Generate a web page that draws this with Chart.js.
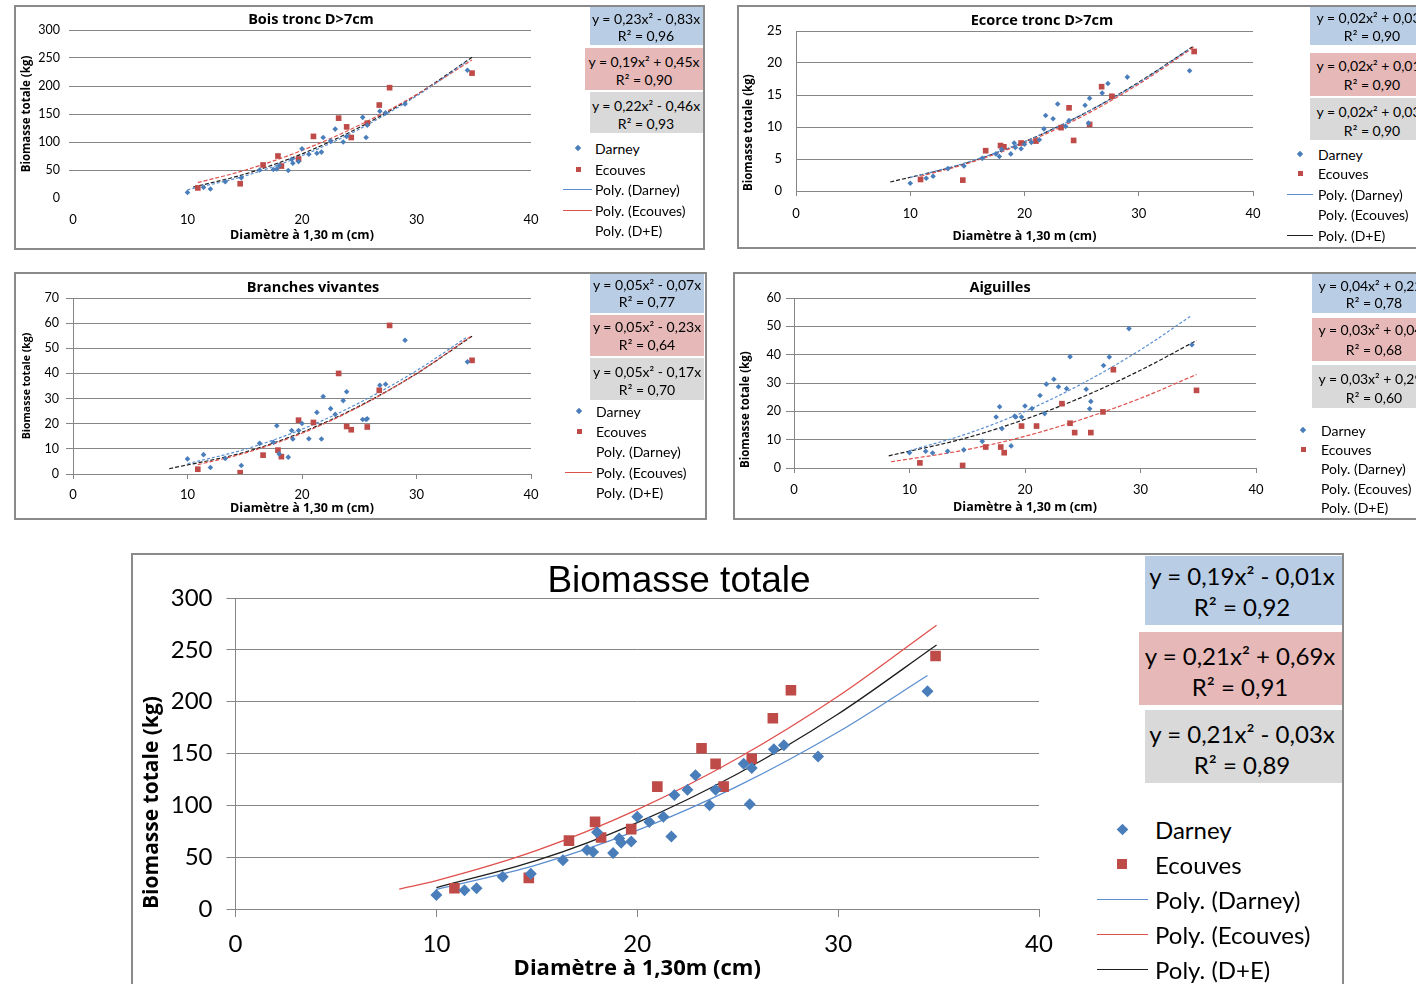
<!DOCTYPE html>
<html>
<head>
<meta charset="utf-8">
<title>Biomasse totale</title>
<script src="https://cdn.jsdelivr.net/npm/chart.js@4.4.0/dist/chart.umd.min.js"></script>
<style>
html, body { margin: 0; padding: 0; background: #fff; }
body { width: 1416px; height: 984px; overflow: hidden; position: relative; font-family: Lato, "Open Sans", sans-serif; color: #000; }
.panel { position: absolute; border: 2px solid #8a8a8a; box-sizing: border-box; }
canvas { position: absolute; }
.t { position: absolute; white-space: nowrap; transform: translate(-50%, -50%); }
.l { position: absolute; white-space: nowrap; transform: translateY(-50%); }
.bx { position: absolute; }
</style>
</head>
<body>
<div class="panel" style="left:14px;top:5px;width:691px;height:245px"></div>
<div class="panel" style="left:737px;top:5px;width:720px;height:244px"></div>
<div class="panel" style="left:14px;top:272px;width:693px;height:248px"></div>
<div class="panel" style="left:733px;top:272px;width:720px;height:248px"></div>
<div class="panel" style="left:131px;top:553px;width:1213px;height:460px"></div>

<canvas id="bois"></canvas>
<canvas id="ecorce"></canvas>
<canvas id="branches"></canvas>
<canvas id="aiguilles"></canvas>
<canvas id="total"></canvas>
<div id="overlay"></div>

<script>
// diameters at 1.30 m (cm)
var darneyD = [10.0, 11.4, 12.0, 13.3, 14.7, 16.3, 17.5, 17.8, 18.0, 18.8, 19.1, 19.2, 19.7, 20.0, 20.6, 21.3, 21.7, 21.85, 22.5, 22.9, 23.6, 23.9, 25.3, 25.6, 25.7, 26.8, 27.3, 29.0, 34.45];
var ecouvesD = [10.9, 14.6, 16.6, 17.9, 18.2, 19.7, 21.0, 23.2, 23.9, 24.3, 25.7, 26.75, 27.65, 34.85];

// biomass (kg) per compartment
var boisDarney = [10, 19, 16, 29, 36, 50, 51, 52, 58, 49, 69, 62, 65, 88, 78, 80, 82, 108, 102, 123, 100, 110, 144, 108, 130, 155, 152, 168, 228];
var boisEcouves = [18, 25.5, 59, 75, 57, 69.5, 110, 142.6, 127, 108, 133.6, 166, 197, 223];
var ecorceDarney = [1.2, 2.0, 2.3, 3.5, 3.9, 5.1, 5.8, 5.4, 6.5, 5.8, 7.5, 6.8, 6.6, 7.3, 7.6, 8.0, 9.7, 11.8, 11.3, 13.6, 10.1, 11.0, 13.4, 10.6, 14.5, 15.3, 16.8, 17.8, 18.8];
var ecorceEcouves = [1.8, 1.7, 6.3, 7.1, 6.9, 7.5, 7.8, 9.9, 13.0, 7.9, 10.4, 16.3, 14.8, 21.8];
var branchesDarney = [6.0, 7.7, 2.6, 6.2, 3.4, 12.2, 12.6, 19.2, 8.0, 6.7, 17.3, 13.9, 17.3, 20.1, 14.0, 24.5, 13.9, 30.8, 26.0, 23.7, 29.2, 32.7, 21.7, 21.7, 22.0, 35.3, 35.7, 53.2, 44.6];
var branchesEcouves = [1.9, 0.5, 7.5, 9.5, 6.9, 21.4, 20.5, 40, 18.9, 17.6, 18.7, 33.3, 59.1, 45.2];
var aiguillesDarney = [5.4, 5.9, 5.3, 5.9, 6.4, 9.4, 18.0, 21.6, 13.9, 7.8, 18.3, 18.0, 18.0, 21.9, 21.0, 25.6, 19.2, 29.6, 31.3, 28.7, 28.0, 39.3, 27.8, 20.9, 23.5, 36.2, 39.2, 49.2, 43.5];
var aiguillesEcouves = [1.8, 0.9, 7.4, 7.4, 5.4, 14.8, 14.8, 22.7, 15.8, 12.5, 12.5, 19.8, 34.7, 27.4];
var totalDarney = [13.5, 18, 20, 31, 34, 47, 57, 55, 74, 54, 68, 64, 65, 89, 84, 89, 70, 110, 115, 129, 100, 115, 140, 101, 136, 154, 158, 147, 210];
var totalEcouves = [20, 30, 66, 84, 69, 77, 118, 155, 140, 118, 145, 184, 211, 244];

// polynomial trend lines
var boisTrendDX = [10, 15, 20, 25, 30, 34.45], boisTrendDY = [14.7, 39.3, 75.4, 123, 182.1, 244.4];
var boisTrendEX = [10.9, 15, 20, 25, 30, 34.85], boisTrendEY = [27.5, 49.5, 85, 130, 184.5, 246.5];
var boisTrendAX = [10.5, 15, 20, 25, 30, 34.85], boisTrendAY = [19.4, 42.6, 78.8, 126, 184.2, 251.2];
var ecorceTrendDX = [10, 15, 20, 25, 30, 34.45], ecorceTrendDY = [2.1, 4.5, 7.7, 11.9, 16.9, 22.2];
var ecorceTrendEX = [10.9, 15, 20, 25, 30, 34.85], ecorceTrendEY = [2.3, 4.3, 7.5, 11.6, 16.7, 22.5];
var ecorceTrendAX = [8.25, 15, 20, 25, 30, 34.85], ecorceTrendAY = [1.4, 4.4, 7.7, 11.9, 17.0, 22.7];
var branchesTrendDX = [10, 15, 20, 25, 30, 34.45], branchesTrendDY = [4.1, 9.8, 17.8, 28.3, 41.1, 54.6];
var branchesTrendEX = [10.9, 15, 20, 25, 30, 34.85], branchesTrendEY = [3.7, 8.3, 16.2, 26.8, 39.9, 55.1];
var branchesTrendAX = [8.4, 15, 20, 25, 30, 34.85], branchesTrendAY = [2.1, 8.7, 16.6, 27.0, 39.9, 54.8];
var aiguillesTrendDX = [10, 15, 20, 25, 30, 34.45], aiguillesTrendDY = [6.1, 12.1, 20.0, 29.9, 41.7, 53.9];
var aiguillesTrendEX = [8.4, 15, 20, 25, 30, 34.85], aiguillesTrendEY = [2.2, 6.5, 11.2, 17.3, 24.6, 33.0];
var aiguillesTrendAX = [8.2, 15, 20, 25, 30, 34.85], aiguillesTrendAY = [4.3, 10.7, 17.2, 25.1, 34.5, 45.0];
var totalTrendDX = [10, 15, 20, 25, 30, 34.45], totalTrendDY = [18.9, 42.6, 75.8, 118.5, 170.7, 225.2];
var totalTrendEX = [8.15, 10, 15, 20, 25, 30, 34.9], totalTrendEY = [19.2, 27.4, 56.5, 95.8, 145.4, 205.2, 273.8];
var totalTrendAX = [10, 15, 20, 25, 30, 34.9], totalTrendAY = [20.7, 46.8, 83.4, 130.5, 188.1, 254.7];

var xTicks = [0, 10, 20, 30, 40];

var FONT = 'Lato, "Open Sans", sans-serif';
var BOLD = '"Open Sans", Lato, sans-serif';
var GRID = '#868686';
var BLUE = '#4a7ebb', RED = '#be4b48';
var BLUE_LINE = '#5b8fd0', RED_LINE = '#e0504d', BLACK_LINE = '#1e1e1e';

function pts(xs, ys) {
    return xs.map(function (x, i) { return { x: x, y: ys[i] }; });
}

function points(label, xs, ys, style, color, r) {
    return {
        label: label, data: pts(xs, ys), pointStyle: style, pointRadius: r,
        backgroundColor: color, borderColor: color, borderWidth: 0, showLine: false
    };
}

function trend(label, xs, ys, color, w, dash) {
    return {
        label: label, data: pts(xs, ys), showLine: true, pointRadius: 0,
        borderColor: color, borderWidth: w, borderDash: dash, fill: false,
        cubicInterpolationMode: 'monotone'
    };
}

function smallSets(dD, dE, tDX, tDY, tEX, tEY, tAX, tAY) {
    return [
        points('Darney', darneyD, dD, 'rectRot', BLUE, 2.8),
        points('Ecouves', ecouvesD, dE, 'rect', RED, 4),
        trend('Poly. (Darney)', tDX, tDY, BLUE_LINE, 1.2, [3, 2]),
        trend('Poly. (Ecouves)', tEX, tEY, RED_LINE, 1.2, [4, 2]),
        trend('Poly. (D+E)', tAX, tAY, BLACK_LINE, 1.2, [4, 2])
    ];
}

function makeChart(p) {
    var cv = document.getElementById(p.id);
    var L = p.canvas[0], T = p.canvas[1], W = p.canvas[2], H = p.canvas[3];
    cv.width = W; cv.height = H;
    cv.style.left = L + 'px'; cv.style.top = T + 'px';
    cv.style.width = W + 'px'; cv.style.height = H + 'px';
    var pl = p.plot;
    var yW = pl[0] - L, xH = T + H - pl[3];
    var hideZero = p.hideZero;
    return new Chart(cv.getContext('2d'), {
        type: 'scatter',
        data: { datasets: p.datasets },
        options: {
            responsive: false,
            animation: false,
            devicePixelRatio: 1,
            layout: { padding: { left: 0, top: pl[1] - T, right: L + W - pl[2], bottom: 0 } },
            plugins: { legend: { display: false }, tooltip: { enabled: false } },
            scales: {
                x: {
                    type: 'linear', min: 0, max: 40,
                    afterBuildTicks: function (s) { s.ticks = xTicks.map(function (v) { return { value: v }; }); },
                    ticks: { padding: p.xt[1], color: '#000', font: { family: FONT, size: p.xt[2] } },
                    grid: { drawOnChartArea: false, drawTicks: p.xt[0] > 0, tickLength: p.xt[0], color: GRID },
                    border: { display: !hideZero, color: GRID },
                    title: {
                        display: true, text: p.xTitle, color: '#000',
                        font: { family: BOLD, size: p.xl[0], weight: 'bold' },
                        padding: { top: 0, bottom: p.xl[1] }
                    },
                    afterFit: function (s) { s.height = xH; }
                },
                y: {
                    min: 0, max: p.yMax,
                    ticks: { stepSize: p.yStep, padding: p.yt[1], color: '#000', font: { family: FONT, size: p.yt[2] } },
                    grid: {
                        drawTicks: p.yt[0] > 0, tickLength: p.yt[0],
                        color: function (c) { return (hideZero && c.tick && c.tick.value === 0) ? 'rgba(0,0,0,0)' : GRID; }
                    },
                    border: { display: p.yAxisLine, color: GRID },
                    title: {
                        display: true, text: 'Biomasse totale (kg)', color: '#000', align: p.yl[2],
                        font: { family: BOLD, size: p.yl[0], weight: 'bold' },
                        padding: { top: p.yl[1], bottom: 0 }
                    },
                    afterFit: function (s) { s.width = yW; }
                }
            }
        }
    });
}

var panels = [
    {
        id: 'bois', canvas: [16, 7, 569, 240], plot: [73, 30, 531, 198], yMax: 300, yStep: 50,
        yt: [4, 9, 12.5], xt: [0, 14, 13], yl: [11.5, 4, 'center'], xl: [12.5, 4], hideZero: true, yAxisLine: false,
        xTitle: 'Diamètre à 1,30 m (cm)',
        datasets: smallSets(boisDarney, boisEcouves, boisTrendDX, boisTrendDY, boisTrendEX, boisTrendEY, boisTrendAX, boisTrendAY)
    },
    {
        id: 'ecorce', canvas: [739, 7, 571, 240], plot: [796, 31, 1253, 191], yMax: 25, yStep: 5,
        yt: [0, 14, 13], xt: [5, 10, 13], yl: [11.5, 3, 'start'], xl: [12.5, 3], hideZero: false, yAxisLine: true,
        xTitle: 'Diamètre à 1,30 m (cm)',
        datasets: smallSets(ecorceDarney, ecorceEcouves, ecorceTrendDX, ecorceTrendDY, ecorceTrendEX, ecorceTrendEY, ecorceTrendAX, ecorceTrendAY)
    },
    {
        id: 'branches', canvas: [16, 274, 570, 243], plot: [73, 298, 531, 474], yMax: 70, yStep: 10,
        yt: [7, 7, 12.5], xt: [5, 8, 13], yl: [10.5, 4.8, 'center'], xl: [12.5, 1], hideZero: false, yAxisLine: true,
        xTitle: 'Diamètre à 1,30 m (cm)',
        datasets: smallSets(branchesDarney, branchesEcouves, branchesTrendDX, branchesTrendDY, branchesTrendEX, branchesTrendEY, branchesTrendAX, branchesTrendAY)
    },
    {
        id: 'aiguilles', canvas: [735, 274, 577, 243], plot: [794, 298, 1256, 468], yMax: 60, yStep: 10,
        yt: [8, 5, 12.5], xt: [5, 9, 13], yl: [11.5, 4, 'start'], xl: [12.5, 2], hideZero: false, yAxisLine: true,
        xTitle: 'Diamètre à 1,30 m (cm)',
        datasets: smallSets(aiguillesDarney, aiguillesEcouves, aiguillesTrendDX, aiguillesTrendDY, aiguillesTrendEX, aiguillesTrendEY, aiguillesTrendAX, aiguillesTrendAY)
    },
    {
        id: 'total', canvas: [133, 555, 1000, 429], plot: [235.5, 598, 1039, 909], yMax: 300, yStep: 50,
        yt: [9, 14, 24], xt: [8, 13, 24], yl: [21, 6.4, 'start'], xl: [22, 2.2], hideZero: false, yAxisLine: true,
        xTitle: 'Diamètre à 1,30m (cm)',
        datasets: [
            points('Darney', darneyD, totalDarney, 'rectRot', BLUE, 6),
            points('Ecouves', ecouvesD, totalEcouves, 'rect', RED, 7.5),
            trend('Poly. (Darney)', totalTrendDX, totalTrendDY, BLUE_LINE, 1.3, []),
            trend('Poly. (Ecouves)', totalTrendEX, totalTrendEY, RED_LINE, 1.3, []),
            trend('Poly. (D+E)', totalTrendAX, totalTrendAY, BLACK_LINE, 1.3, [])
        ]
    }
];

panels.forEach(makeChart);

// titles, equation boxes and legends
var ov = document.getElementById('overlay');

function el(cls, txt, css) {
    var d = document.createElement('div');
    d.className = cls;
    if (txt) d.textContent = txt;
    d.style.cssText = css;
    ov.appendChild(d);
    return d;
}

function title(txt, cx, cy, size, fam, weight) {
    el('t', txt, 'left:' + cx + 'px;top:' + cy + 'px;font-size:' + size + 'px;font-family:' + fam + ';font-weight:' + weight);
}

function eqBox(x, y, w, h, bg, lines, cx, ys, size) {
    el('bx', '', 'left:' + x + 'px;top:' + y + 'px;width:' + w + 'px;height:' + h + 'px;background:' + bg);
    lines.forEach(function (s, i) {
        el('t', s, 'left:' + cx + 'px;top:' + ys[i] + 'px;font-size:' + size + 'px');
    });
}

function legend(lg) {
    var names = ['Darney', 'Ecouves', 'Poly. (Darney)', 'Poly. (Ecouves)', 'Poly. (D+E)'];
    var colors = [BLUE_LINE, RED_LINE, BLACK_LINE];
    names.forEach(function (n, i) {
        var y = lg.ys[i];
        el('l', n, 'left:' + lg.tx + 'px;top:' + y + 'px;font-size:' + lg.size + 'px');
        if (i === 0) {
            var s = lg.mk[0];
            el('bx', '', 'left:' + (lg.mx - s / 2) + 'px;top:' + (y - s / 2) + 'px;width:' + s + 'px;height:' + s + 'px;background:' + BLUE + ';transform:rotate(45deg) scale(0.75)');
        } else if (i === 1) {
            var q = lg.mk[1];
            el('bx', '', 'left:' + (lg.mx - q / 2) + 'px;top:' + (y - q / 2) + 'px;width:' + q + 'px;height:' + q + 'px;background:' + RED);
        } else if (lg.lines[i - 2]) {
            el('bx', '', 'left:' + lg.lx[0] + 'px;top:' + (y - 0.5) + 'px;width:' + (lg.lx[1] - lg.lx[0]) + 'px;height:1.3px;background:' + colors[i - 2]);
        }
    });
}

var TF = '"Open Sans", Lato, sans-serif';
title('Bois tronc D>7cm', 311, 18, 14.5, TF, 'bold');
title('Ecorce tronc D>7cm', 1042, 19, 14.5, TF, 'bold');
title('Branches vivantes', 313, 286, 14.5, TF, 'bold');
title('Aiguilles', 1000, 286, 14.5, TF, 'bold');
title('Biomasse totale', 679, 580, 37, '"Liberation Sans", Arial, sans-serif', 'normal');

var BB = '#b9cde5', RB = '#e6b9b8', GB = '#d9d9d9';
var ES = 14;

eqBox(590, 7, 113, 38, BB, ['y = 0,23x² - 0,83x', 'R² = 0,96'], 646, [18, 35], ES);
eqBox(585, 48, 118, 42, RB, ['y = 0,19x² + 0,45x', 'R² = 0,90'], 644, [61, 79], ES);
eqBox(590, 92, 113, 41, GB, ['y = 0,22x² - 0,46x', 'R² = 0,93'], 646, [105, 123], ES);
legend({ ys: [148, 169, 189, 210, 230], tx: 595, mx: 578, mk: [6, 5], lx: [563, 592], size: ES, lines: [true, true, false] });

eqBox(1310, 7, 130, 38, BB, ['y = 0,02x² + 0,03x', 'R² = 0,90'], 1372, [17, 35], ES);
eqBox(1310, 53, 130, 43, RB, ['y = 0,02x² + 0,01x', 'R² = 0,90'], 1372, [65, 84], ES);
eqBox(1310, 98, 130, 42, GB, ['y = 0,02x² + 0,03x', 'R² = 0,90'], 1372, [111, 130], ES);
legend({ ys: [154, 173, 194, 214, 235], tx: 1318, mx: 1300, mk: [6, 5], lx: [1287, 1313], size: ES, lines: [true, false, true] });

eqBox(590, 274, 114, 39, BB, ['y = 0,05x² - 0,07x', 'R² = 0,77'], 647, [284, 301], ES);
eqBox(590, 315, 114, 41, RB, ['y = 0,05x² - 0,23x', 'R² = 0,64'], 647, [326, 344], ES);
eqBox(590, 358, 114, 42, GB, ['y = 0,05x² - 0,17x', 'R² = 0,70'], 647, [371, 389], ES);
legend({ ys: [411, 431, 451, 472, 492], tx: 596, mx: 579, mk: [6, 5], lx: [565, 592], size: ES, lines: [false, true, false] });

eqBox(1312, 274, 130, 39, BB, ['y = 0,04x² + 0,22x', 'R² = 0,78'], 1374, [285, 302], ES);
eqBox(1312, 318, 130, 43, RB, ['y = 0,03x² + 0,04x', 'R² = 0,68'], 1374, [329, 349], ES);
eqBox(1312, 365, 130, 43, GB, ['y = 0,03x² + 0,29x', 'R² = 0,60'], 1374, [378, 397], ES);
legend({ ys: [430, 449, 468, 488, 507], tx: 1321, mx: 1303, mk: [6, 5], lx: [1290, 1316], size: ES, lines: [false, false, false] });

eqBox(1145, 556, 197, 69, BB, ['y = 0,19x² - 0,01x', 'R² = 0,92'], 1242, [575, 606], 24);
eqBox(1139, 632, 203, 73, RB, ['y = 0,21x² + 0,69x', 'R² = 0,91'], 1240, [655, 686], 24);
eqBox(1145, 710, 197, 73, GB, ['y = 0,21x² - 0,03x', 'R² = 0,89'], 1242, [733, 764], 24);
legend({ ys: [829, 864, 899, 934, 969], tx: 1155, mx: 1122, mk: [11, 10], lx: [1097, 1148], size: 24, lines: [true, true, true] });
</script>
</body>
</html>
